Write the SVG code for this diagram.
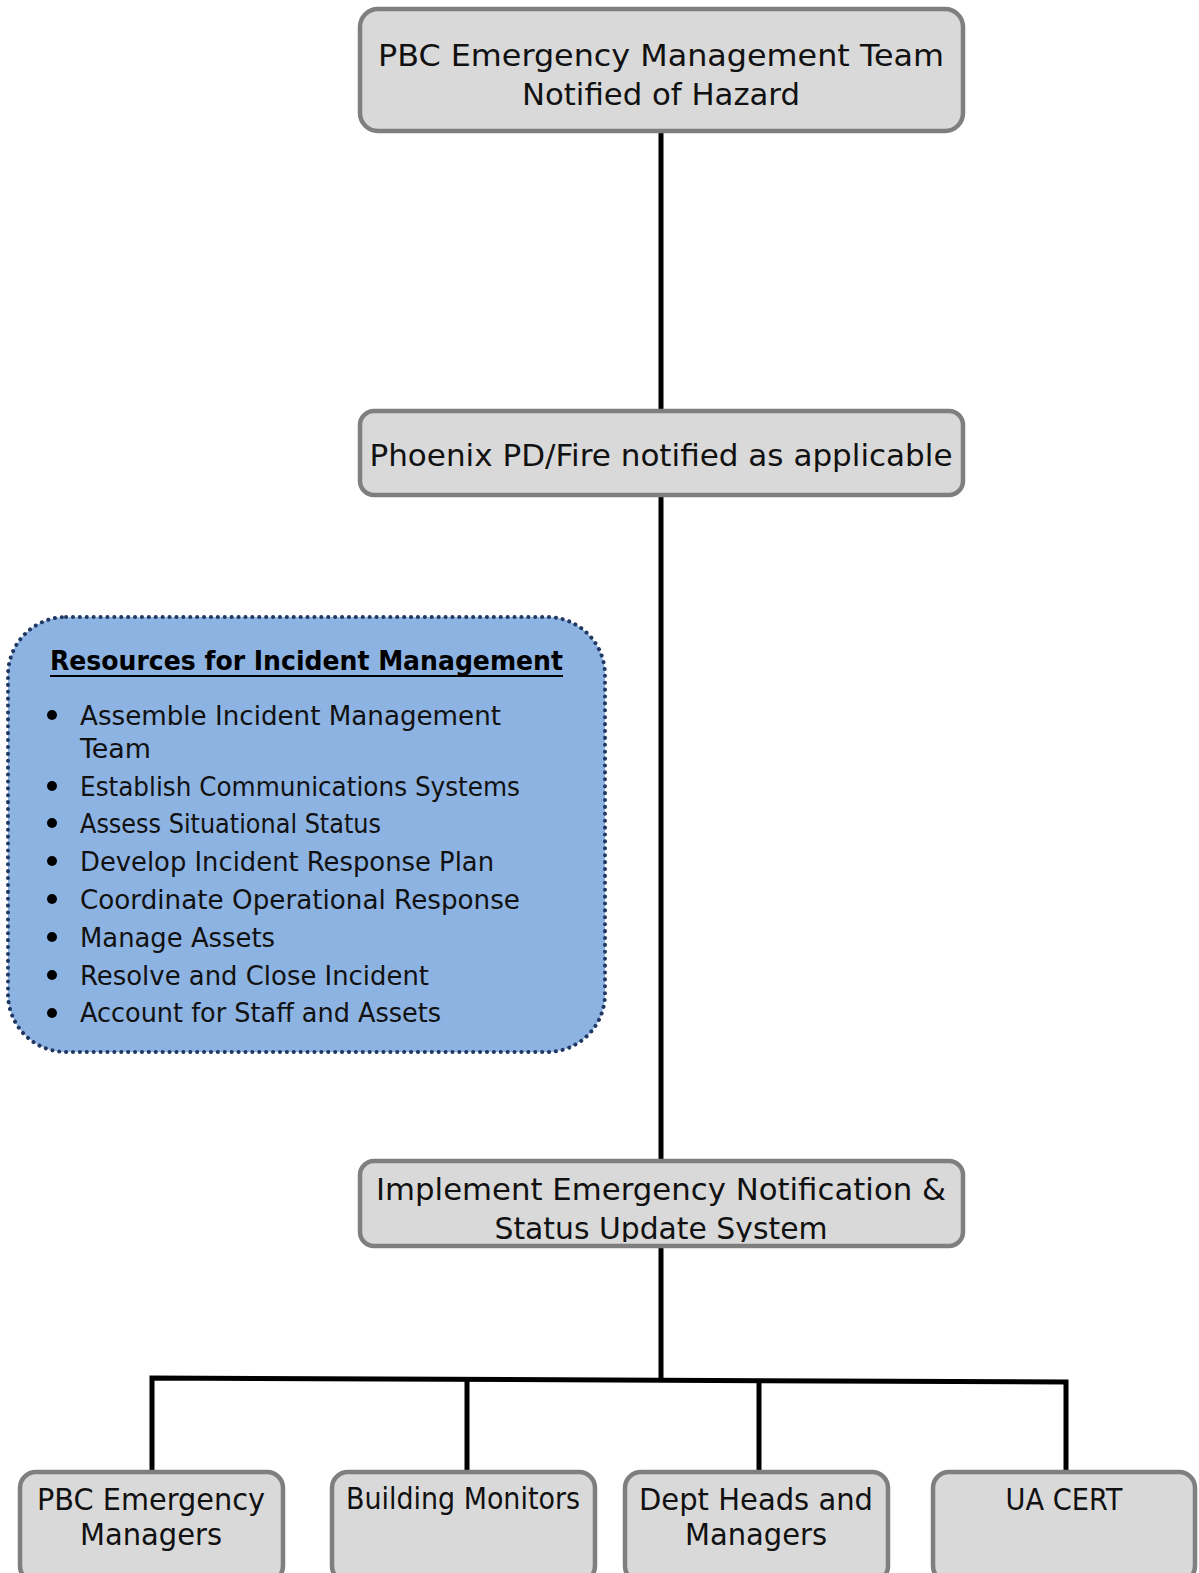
<svg xmlns="http://www.w3.org/2000/svg" width="1199" height="1573" viewBox="0 0 1199 1573">
<style>
.box{fill:#d9d9d9;stroke:#7f7f7f;stroke-width:4.5}
.t{font-family:"DejaVu Sans","Liberation Sans",sans-serif;fill:#111;font-size:31px}
.b{font-family:"DejaVu Sans","Liberation Sans",sans-serif;fill:#111;font-size:26px}
.conn{stroke:#000;stroke-width:5;fill:none}
</style>
<defs>
<clipPath id="clipImpl"><rect x="362" y="1163" width="599" height="79"/></clipPath>
</defs>
<g id="connectors">
<line class="conn" x1="661" y1="131" x2="661" y2="410"/>
<line class="conn" x1="661" y1="495" x2="661" y2="1161"/>
<line class="conn" x1="661" y1="1246" x2="661" y2="1380"/>
<polyline class="conn" points="152,1472 152,1378 1066,1382 1066,1470"/>
<line class="conn" x1="467" y1="1380" x2="467" y2="1472"/>
<line class="conn" x1="759" y1="1381" x2="759" y2="1472"/>
</g>
<g id="n1">
<rect class="box" x="360" y="9" width="603" height="122" rx="18"/>
<text class="t" x="661" y="66" text-anchor="middle" textLength="566" lengthAdjust="spacingAndGlyphs">PBC Emergency Management Team</text>
<text class="t" x="661" y="105" text-anchor="middle" textLength="278" lengthAdjust="spacingAndGlyphs">Notified of Hazard</text>
</g>
<g id="n2">
<rect class="box" x="360" y="411" width="603" height="84" rx="14"/>
<text class="t" x="661" y="466" text-anchor="middle" textLength="583" lengthAdjust="spacingAndGlyphs">Phoenix PD/Fire notified as applicable</text>
</g>
<g id="resources">
<rect x="8" y="617" width="597" height="435" rx="58" fill="#8db3e2" stroke="#1f3864" stroke-width="4" stroke-dasharray="0.1 6.8" stroke-linecap="round"/>
<text x="50" y="670" font-family="DejaVu Sans,Liberation Sans,sans-serif" font-weight="bold" font-size="27" fill="#000" textLength="513" lengthAdjust="spacingAndGlyphs">Resources for Incident Management</text>
<line x1="50" y1="676" x2="563" y2="676" stroke="#000" stroke-width="2"/>
<g fill="#000">
<circle cx="52" cy="715" r="5"/>
<circle cx="52" cy="786" r="5"/>
<circle cx="52" cy="823" r="5"/>
<circle cx="52" cy="861" r="5"/>
<circle cx="52" cy="899" r="5"/>
<circle cx="52" cy="937" r="5"/>
<circle cx="52" cy="975" r="5"/>
<circle cx="52" cy="1013" r="5"/>
</g>
<text class="b" x="80" y="725" textLength="421" lengthAdjust="spacingAndGlyphs">Assemble Incident Management</text>
<text class="b" x="80" y="758" textLength="71" lengthAdjust="spacingAndGlyphs">Team</text>
<text class="b" x="80" y="796" textLength="440" lengthAdjust="spacingAndGlyphs">Establish Communications Systems</text>
<text class="b" x="80" y="833" textLength="301" lengthAdjust="spacingAndGlyphs">Assess Situational Status</text>
<text class="b" x="80" y="871" textLength="414" lengthAdjust="spacingAndGlyphs">Develop Incident Response Plan</text>
<text class="b" x="80" y="909" textLength="440" lengthAdjust="spacingAndGlyphs">Coordinate Operational Response</text>
<text class="b" x="80" y="947" textLength="195" lengthAdjust="spacingAndGlyphs">Manage Assets</text>
<text class="b" x="80" y="985" textLength="349" lengthAdjust="spacingAndGlyphs">Resolve and Close Incident</text>
<text class="b" x="80" y="1022" textLength="361" lengthAdjust="spacingAndGlyphs">Account for Staff and Assets</text>
</g>
<g id="n3">
<rect class="box" x="360" y="1161" width="603" height="85" rx="14"/>
<g clip-path="url(#clipImpl)">
<text class="t" x="661" y="1200" text-anchor="middle" textLength="570" lengthAdjust="spacingAndGlyphs">Implement Emergency Notification &amp;</text>
<text class="t" x="661" y="1239" text-anchor="middle" textLength="333" lengthAdjust="spacingAndGlyphs">Status Update System</text>
</g>
</g>
<g id="n4">
<rect class="box" x="20" y="1472" width="263" height="110" rx="16"/>
<text class="t" x="151" y="1510" text-anchor="middle" textLength="228" lengthAdjust="spacingAndGlyphs">PBC Emergency</text>
<text class="t" x="151" y="1545" text-anchor="middle" textLength="142" lengthAdjust="spacingAndGlyphs">Managers</text>
</g>
<g id="n5">
<rect class="box" x="332" y="1472" width="263" height="110" rx="16"/>
<text class="t" x="463" y="1509" text-anchor="middle" textLength="234" lengthAdjust="spacingAndGlyphs">Building Monitors</text>
</g>
<g id="n6">
<rect class="box" x="625" y="1472" width="263" height="110" rx="16"/>
<text class="t" x="756" y="1510" text-anchor="middle" textLength="234" lengthAdjust="spacingAndGlyphs">Dept Heads and</text>
<text class="t" x="756" y="1545" text-anchor="middle" textLength="142" lengthAdjust="spacingAndGlyphs">Managers</text>
</g>
<g id="n7">
<rect class="box" x="933" y="1472" width="262" height="110" rx="16"/>
<text class="t" x="1064" y="1510" text-anchor="middle" textLength="117" lengthAdjust="spacingAndGlyphs">UA CERT</text>
</g>
</svg>
